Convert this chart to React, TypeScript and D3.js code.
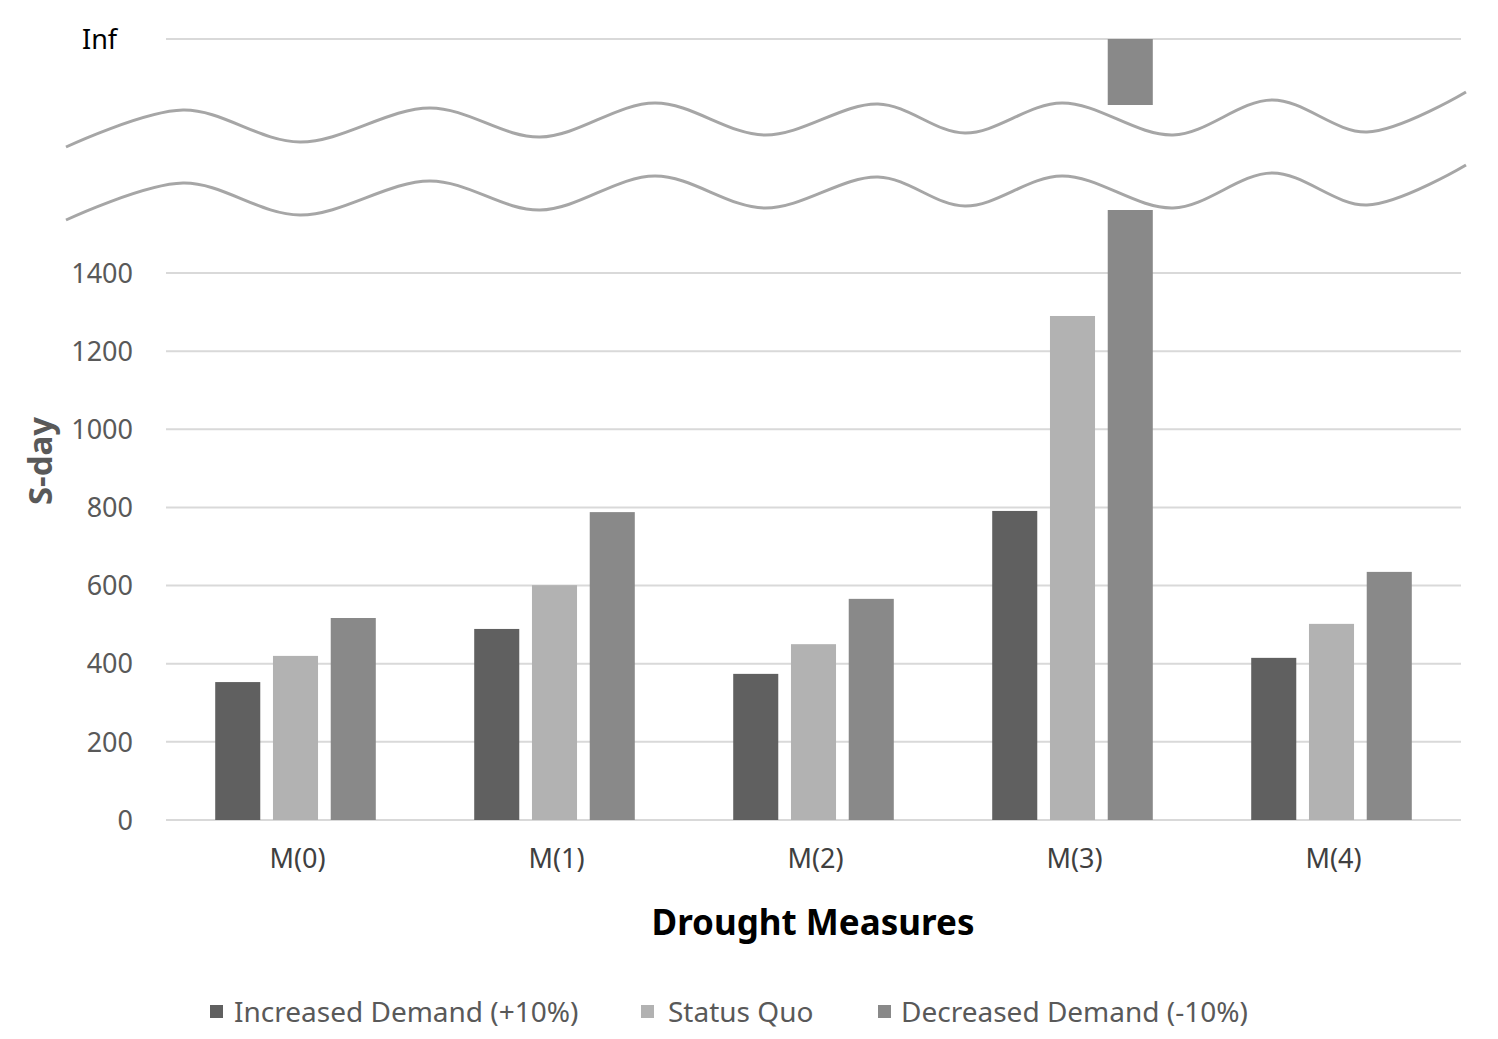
import * as d3 from "d3";

const categories = ["M(0)", "M(1)", "M(2)", "M(3)", "M(4)"];
const seriesNames = ["Increased Demand (+10%)", "Status Quo", "Decreased Demand (-10%)"];
const increased = [353, 489, 374, 791, 415];
const statusQuo = [420, 601, 450, 1290, 502];
const decreased = [517, 788, 566, Infinity, 635];
const yTicks = [0, 200, 400, 600, 800, 1000, 1200, 1400];

const colors = ["#606060", "#b2b2b2", "#898989"];

// break symbol shape (x along the chart, y offset of the upper wave)
const waveKnots: [number, number][] = [
  [66, 147], [183, 110], [300, 142], [430, 108], [540, 137], [655, 103],
  [765, 135], [878, 104], [965, 133], [1062, 103], [1173, 135], [1272, 100],
  [1367, 132], [1466, 92],
];

const W = 1498;
const H = 1039;
const plot = { left: 166, right: 1461, zero: 820, top1400: 273 };
const infY = 39;
const breakTop = 105; // bottom of the upper (Inf) segment
const breakBottom = 210; // where lower bars are cut
const font = "'Noto Sans', 'Open Sans', sans-serif";
const legendMarkX = [210, 641, 878];
const legendTextX = [234, 668, 901];

export default function App() {
  const data = [increased, statusQuo, decreased];
  const x0 = d3.scaleBand().domain(categories).range([plot.left, plot.right]).padding(0);
  const bw = x0.bandwidth();
  const x1 = d3
    .scaleBand()
    .domain(seriesNames)
    .range([bw * 0.19, bw * 0.81])
    .paddingInner(0.22)
    .paddingOuter(0);
  const y = d3.scaleLinear().domain([0, 1400]).range([plot.zero, plot.top1400]);

  const wave = d3
    .line<[number, number]>()
    .x((d) => d[0])
    .y((d) => d[1])
    .curve(d3.curveCatmullRom.alpha(0.5));

  return (
    <svg
      width={W}
      height={H}
      style={{ position: "absolute", left: 0, top: 0, background: "#fff" }}
      fontFamily={font}
    >
      {/* gridlines */}
      {yTicks.map((t) => (
        <line key={t} x1={plot.left} x2={plot.right} y1={y(t)} y2={y(t)} stroke="#d9d9d9" strokeWidth={2} />
      ))}
      <line x1={plot.left} x2={plot.right} y1={infY} y2={infY} stroke="#d9d9d9" strokeWidth={2} />

      {/* tick labels */}
      {yTicks.map((t) => (
        <text key={t} x={133} y={y(t)} dy="0.36em" textAnchor="end" fontSize={27} fill="#595959">
          {t}
        </text>
      ))}
      <text x={82} y={infY} dy="0.36em" fontSize={27} fill="#000">Inf</text>

      {/* bars */}
      {categories.map((c, i) => (
        <g key={c} transform={`translate(${x0(c)},0)`}>
          {seriesNames.map((s, j) => {
            const v = data[j][i];
            const bx = x1(s)!;
            if (!isFinite(v)) {
              return (
                <g key={s}>
                  <rect x={bx} y={breakBottom} width={x1.bandwidth()} height={plot.zero - breakBottom} fill={colors[j]} />
                  <rect x={bx} y={infY} width={x1.bandwidth()} height={breakTop - infY} fill={colors[j]} />
                </g>
              );
            }
            return <rect key={s} x={bx} y={y(v)} width={x1.bandwidth()} height={plot.zero - y(v)} fill={colors[j]} />;
          })}
        </g>
      ))}

      {/* axis break waves */}
      <path d={wave(waveKnots) || ""} fill="none" stroke="#a6a6a6" strokeWidth={3} />
      <path
        d={wave(waveKnots.map((p) => [p[0], p[1] + 73] as [number, number])) || ""}
        fill="none"
        stroke="#a6a6a6"
        strokeWidth={3}
      />

      {/* category labels */}
      {categories.map((c) => (
        <text key={c} x={x0(c)! + bw / 2 + 2} y={858} dy="0.36em" textAnchor="middle" fontSize={27} fill="#404040">
          {c}
        </text>
      ))}

      {/* axis titles */}
      <text x={813} y={922} dy="0.36em" textAnchor="middle" fontSize={35} fontWeight="bold" fill="#000">
        Drought Measures
      </text>
      <text
        transform={`translate(40,461) rotate(-90)`}
        dy="0.36em"
        textAnchor="middle"
        fontSize={33}
        fontWeight="bold"
        fill="#595959"
      >
        S-day
      </text>

      {/* legend */}
      {seriesNames.map((s, j) => (
        <g key={s}>
          <rect x={legendMarkX[j]} y={1005} width={13} height={13} fill={colors[j]} />
          <text x={legendTextX[j]} y={1012} dy="0.36em" fontSize={28} fill="#595959">
            {s}
          </text>
        </g>
      ))}
    </svg>
  );
}
